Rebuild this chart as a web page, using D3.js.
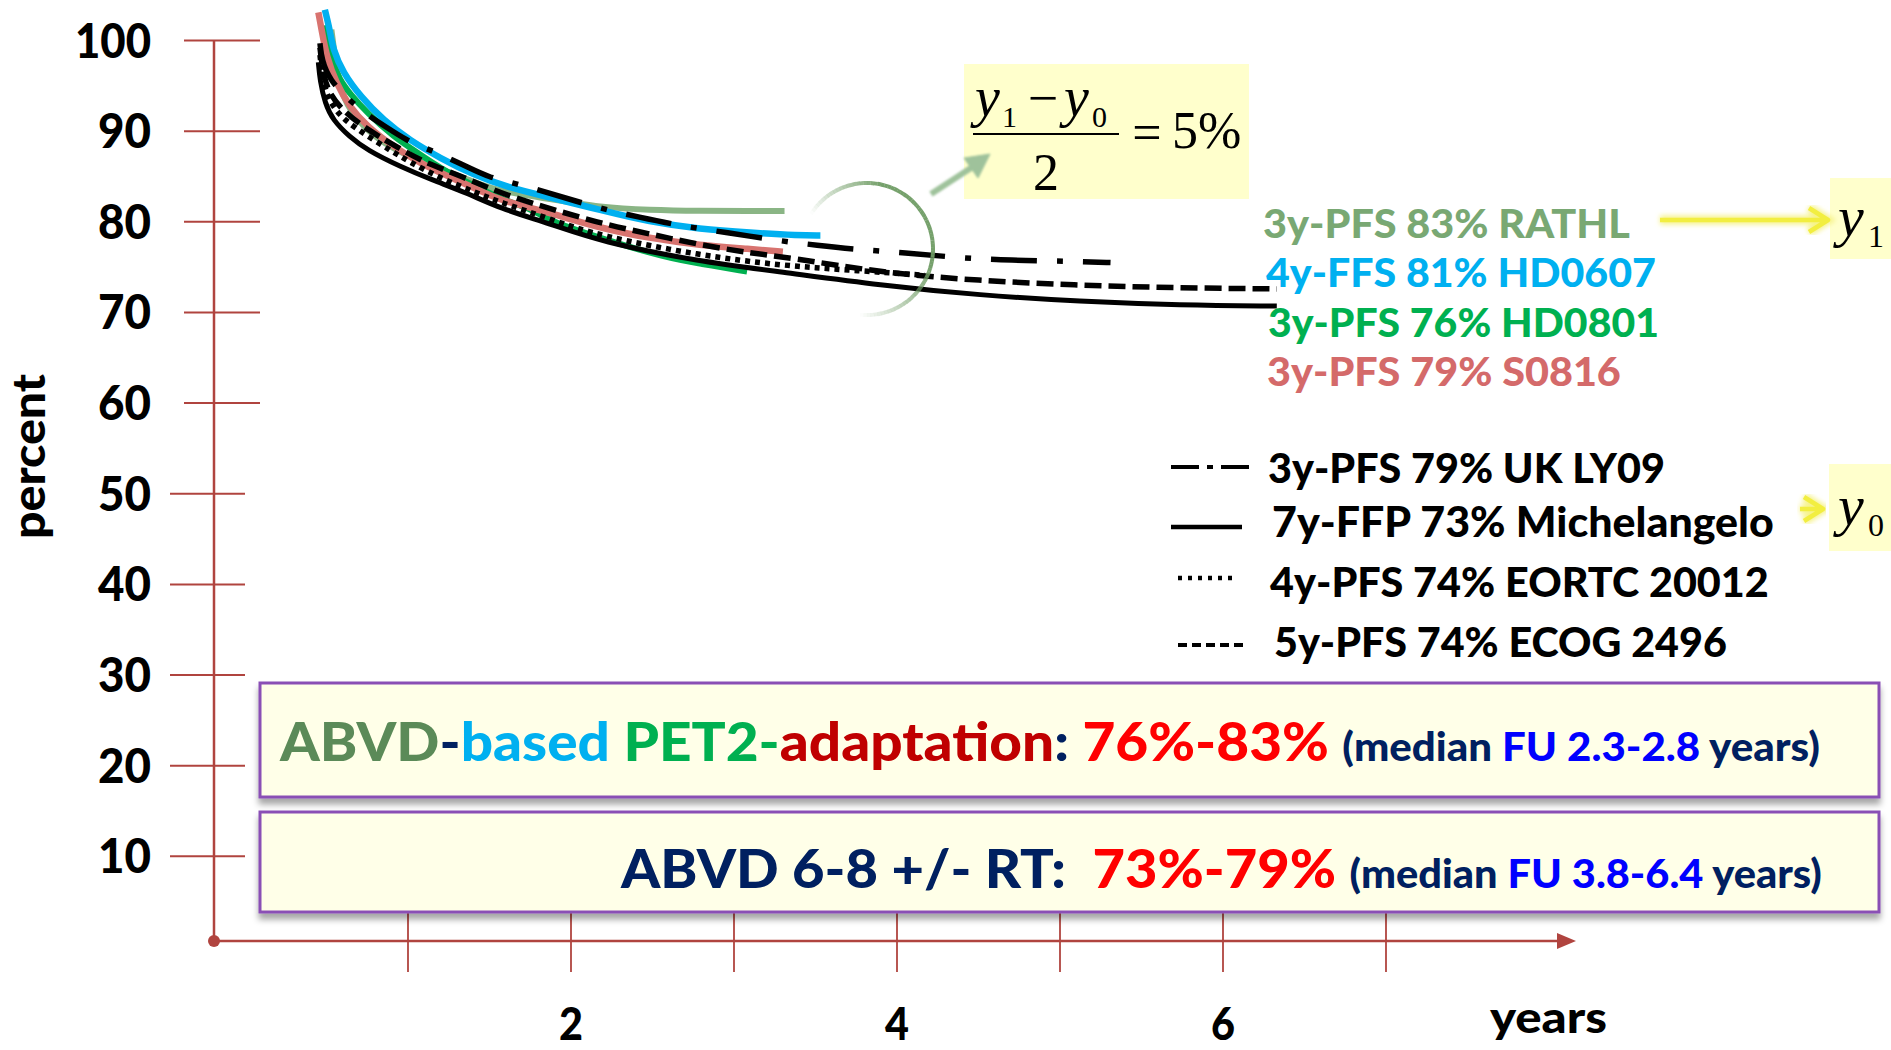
<!DOCTYPE html>
<html>
<head>
<meta charset="utf-8">
<script src="https://cdn.jsdelivr.net/npm/d3@7"></script>
<style>
  body { margin: 0; background: #fff; }
  svg { display: block; font-family: Lato, "Open Sans", sans-serif; font-weight: 900; }
</style>
</head>
<body>
<svg id="chart" width="1891" height="1050"></svg>
<script>
// Axis ticks
const yTicks = [10, 20, 30, 40, 50, 60, 70, 80, 90, 100];
const xTicks = [1, 2, 3, 4, 5, 6, 7];
const xLabels = [2, 4, 6];

// Curves: [years, percent]
const rathl = [[0.53,101.2],[0.55,98.4],[0.58,94.9],[0.64,92.3],[0.75,90.1],[0.85,88.7],[1.01,87.1],[1.26,85.4],[1.46,84.0],[1.56,83.4],[1.87,82.5],[2.18,81.6],[2.48,81.3],[2.79,81.2],[3.10,81.2],[3.31,81.2]];
const hd0607 = [[0.49,103.4],[0.52,101.2],[0.54,99.0],[0.60,96.5],[0.71,93.8],[0.85,91.2],[1.01,89.0],[1.20,87.0],[1.40,85.2],[1.61,83.8],[1.87,82.7],[2.18,81.3],[2.48,80.0],[2.79,79.2],[3.10,78.8],[3.40,78.5],[3.53,78.5]];
const hd0801 = [[0.50,101.7],[0.52,99.5],[0.54,97.5],[0.58,95.7],[0.64,94.2],[0.75,92.0],[0.91,89.4],[1.06,87.6],[1.20,85.9],[1.36,84.4],[1.56,82.6],[1.77,81.3],[1.87,80.1],[2.18,78.2],[2.59,76.0],[2.79,75.4],[3.08,74.5]];
const s0816 = [[0.45,103.1],[0.47,101.2],[0.50,98.2],[0.56,95.3],[0.64,92.7],[0.75,90.5],[0.91,88.3],[1.07,86.5],[1.26,84.9],[1.46,83.3],[1.56,82.4],[1.87,81.0],[2.18,79.3],[2.48,78.2],[2.79,77.4],[3.10,77.0],[3.30,76.7]];
const ukly09 = [[0.46,99.7],[0.47,97.9],[0.52,95.6],[0.64,93.4],[0.75,91.8],[0.87,90.4],[0.99,89.0],[1.11,88.1],[1.23,87.2],[1.37,86.0],[1.50,84.9],[1.62,84.4],[1.81,83.5],[2.15,81.6],[2.42,80.5],[2.69,79.5],[2.96,78.8],[3.24,78.0],[3.51,77.4],[3.78,76.9],[4.05,76.6],[4.33,76.1],[4.61,75.8],[4.88,75.7],[5.16,75.6],[5.31,75.5]];
const michelangelo = [[0.45,97.6],[0.46,95.6],[0.49,93.1],[0.54,91.2],[0.64,89.4],[0.75,87.9],[0.95,86.1],[1.15,84.6],[1.36,83.2],[1.56,81.5],[1.87,79.8],[2.18,77.8],[2.79,75.6],[3.28,74.5],[3.90,73.0],[4.51,71.9],[5.12,71.2],[5.74,70.8],[6.33,70.7]];
const eortc = [[0.46,98.4],[0.48,95.1],[0.53,92.9],[0.61,91.2],[0.74,89.6],[0.89,87.9],[1.01,86.6],[1.20,84.8],[1.42,83.2],[1.56,82.2],[1.87,80.3],[2.18,78.4],[2.79,76.3],[3.28,75.2],[3.69,74.7],[4.17,74.1]];
const ecog = [[0.46,99.2],[0.48,96.2],[0.52,94.0],[0.61,92.1],[0.74,90.3],[0.89,88.7],[1.07,86.8],[1.26,85.5],[1.46,84.0],[1.64,82.7],[1.92,81.2],[2.21,79.7],[2.50,78.6],[2.78,77.5],[3.08,76.6],[3.36,76.0],[3.90,74.4],[4.50,73.5],[5.11,73.0],[5.72,72.7],[6.33,72.6]];

// Legend labels
const coloredLabels = ["3y-PFS 83% RATHL", "4y-FFS 81% HD0607", "3y-PFS 76% HD0801", "3y-PFS 79% S0816"];
const blackLabels = ["3y-PFS 79% UK LY09", "7y-FFP 73% Michelangelo", "4y-PFS 74% EORTC 20012", "5y-PFS 74% ECOG 2496"];

const axisCol = "#b0443f";
const navy = "#002060";

const svg = d3.select("#chart");
const defs = svg.append("defs");

defs.append("filter").attr("id", "shadow")
    .attr("x", "-5%").attr("y", "-20%").attr("width", "110%").attr("height", "150%")
    .append("feDropShadow")
    .attr("dx", 0).attr("dy", 6).attr("stdDeviation", 3)
    .attr("flood-color", "#000").attr("flood-opacity", 0.35);

defs.append("filter").attr("id", "glow")
    .append("feGaussianBlur").attr("stdDeviation", 2.5);

defs.append("filter").attr("id", "soft")
    .append("feGaussianBlur").attr("stdDeviation", 0.8);

// Scales
const x = d3.scaleLinear().domain([0, 7]).range([245, 1386]);
const y = d3.scaleLinear().domain([0, 100]).range([947, 40.5]);
const axisX = 214, axisY = 941;

// squeeze / stretch a text so it spans a given width
function fit(sel, x0, baseline, width, rot) {
    const w = sel.node().getComputedTextLength();
    sel.attr("x", 0).attr("y", 0)
        .attr("transform", "translate(" + x0 + "," + baseline + ")" + (rot ? " rotate(" + rot + ")" : "") + " scale(" + (width / w) + ",1)");
    return sel;
}

// Y axis
svg.append("line")
    .attr("x1", axisX).attr("x2", axisX)
    .attr("y1", y(100)).attr("y2", axisY)
    .attr("stroke", axisCol).attr("stroke-width", 2.5);

svg.selectAll(".ytick").data(yTicks).enter().append("line")
    .attr("class", "ytick")
    .attr("x1", d => d >= 60 ? axisX - 30 : axisX - 44)
    .attr("x2", d => d >= 60 ? axisX + 46 : axisX + 31)
    .attr("y1", d => y(d)).attr("y2", d => y(d))
    .attr("stroke", axisCol).attr("stroke-width", 2);

svg.selectAll(".ylab").data(yTicks).enter().append("text")
    .attr("class", "ylab")
    .attr("font-size", 48)
    .text(d => d)
    .each(function (d) {
        const t = d3.select(this);
        const w = (d === 100 ? 76 : 53);
        fit(t, 151 - w, y(d) + 17, w);
    });

fit(svg.append("text").attr("font-size", 46).text("percent"), 45, 539, 165, -90);

// X axis
svg.selectAll(".xtick").data(xTicks).enter().append("line")
    .attr("class", "xtick")
    .attr("x1", d => x(d)).attr("x2", d => x(d))
    .attr("y1", 905).attr("y2", 972)
    .attr("stroke", axisCol).attr("stroke-width", 1.8);

svg.append("line")
    .attr("x1", axisX).attr("x2", 1562)
    .attr("y1", axisY).attr("y2", axisY)
    .attr("stroke", axisCol).attr("stroke-width", 2.5);

svg.append("path")
    .attr("d", "M1557,933 L1576,941 L1557,949 Z")
    .attr("fill", axisCol);

svg.append("circle")
    .attr("cx", axisX).attr("cy", axisY).attr("r", 6)
    .attr("fill", axisCol);

svg.selectAll(".xlab").data(xLabels).enter().append("text")
    .attr("class", "xlab")
    .attr("font-size", 46)
    .text(d => d)
    .each(function (d) {
        fit(d3.select(this), x(d) - 12, 1040, 24);
    });

fit(svg.append("text").attr("font-size", 44).text("years"), 1490, 1033, 117);

// Curves
const line = d3.line()
    .x(d => x(d[0]))
    .y(d => y(d[1]))
    .curve(d3.curveBasis);

const coloredSeries = [
    { data: rathl, color: "#8ab585", width: 6 },
    { data: hd0801, color: "#00b050", width: 6 },
    { data: s0816, color: "#d8736f", width: 6.5 },
    { data: hd0607, color: "#00b0f0", width: 6.5 }
];
const blackSeries = [
    { data: ecog, dash: "17,7", width: 5.5 },
    { data: eortc, dash: "5,5", width: 5.5 },
    { data: ukly09, dash: "46,20,6,20", width: 5.5 },
    { data: michelangelo, dash: null, width: 5 }
];

svg.selectAll(".colored").data(coloredSeries).enter().append("path")
    .attr("class", "colored")
    .attr("d", d => line(d.data))
    .attr("fill", "none")
    .attr("stroke", d => d.color)
    .attr("stroke-width", d => d.width);

svg.selectAll(".black").data(blackSeries).enter().append("path")
    .attr("class", "black")
    .attr("d", d => line(d.data))
    .attr("fill", "none")
    .attr("stroke", "#000")
    .attr("stroke-width", d => d.width)
    .attr("stroke-dasharray", d => d.dash);

// Fading circle around the curve ends
const ring = svg.append("g").attr("transform", "translate(867,249)");
const nSeg = 80, a0 = -58 * Math.PI / 180, a1 = 186 * Math.PI / 180;
const ringArc = d3.arc().innerRadius(64).outerRadius(68);
d3.range(nSeg).forEach(i => {
    const f = (i + 0.5) / nSeg;
    ring.append("path")
        .attr("d", ringArc({ startAngle: a0 + (a1 - a0) * i / nSeg, endAngle: a0 + (a1 - a0) * (i + 1.05) / nSeg }))
        .attr("fill", "#6f9c64")
        .attr("opacity", Math.max(0, Math.min(0.95, f / 0.3, (1 - f) / 0.35)));
});

// Formula box
svg.append("rect")
    .attr("x", 964).attr("y", 64).attr("width", 285).attr("height", 135)
    .attr("fill", "#ffffcc");

// Arrow from the circle to the formula
const fArrow = svg.append("g").attr("fill", "#9fc29b").attr("stroke", "#9fc29b").attr("filter", "url(#soft)");
fArrow.append("line")
    .attr("x1", 931).attr("y1", 194).attr("x2", 974).attr("y2", 166)
    .attr("stroke-width", 6);
fArrow.append("path")
    .attr("d", "M990,154 L964,158 L978,178 Z")
    .attr("stroke-width", 1);

const serif = "'Liberation Serif', 'Times New Roman', serif";
const formula = svg.append("g").attr("font-family", serif).attr("font-weight", 400).attr("fill", "#000");
formula.append("text").attr("x", 975).attr("y", 116).attr("font-size", 56).attr("font-style", "italic").text("y");
formula.append("text").attr("x", 1002).attr("y", 127).attr("font-size", 30).text("1");
formula.append("text").attr("x", 1043).attr("y", 116).attr("font-size", 54).attr("text-anchor", "middle").text("\u2212");
formula.append("text").attr("x", 1064).attr("y", 116).attr("font-size", 56).attr("font-style", "italic").text("y");
formula.append("text").attr("x", 1092).attr("y", 127).attr("font-size", 30).text("0");
formula.append("line").attr("x1", 973).attr("x2", 1119).attr("y1", 134).attr("y2", 134).attr("stroke", "#000").attr("stroke-width", 2);
formula.append("text").attr("x", 1046).attr("y", 190).attr("font-size", 52).attr("text-anchor", "middle").text("2");
formula.append("text").attr("x", 1147).attr("y", 150).attr("font-size", 52).attr("text-anchor", "middle").text("=");
formula.append("text").attr("x", 1172).attr("y", 148).attr("font-size", 52).text("5%");

// Colored legend
const coloredRows = [
    { color: "#79a873", base: 238, x0: 1263, w: 367 },
    { color: "#00b0f0", base: 287, x0: 1266, w: 390 },
    { color: "#00b050", base: 337, x0: 1268, w: 391 },
    { color: "#d46a6a", base: 386, x0: 1267, w: 354 }
];
coloredLabels.forEach((lab, i) => {
    const r = coloredRows[i];
    fit(svg.append("text").attr("font-size", 40).attr("fill", r.color).text(lab), r.x0, r.base, r.w);
});

// Black legend
const blackRows = [
    { base: 483, x0: 1268, w: 397, lx0: 1171, lx1: 1256, ly: 467, dash: "28,8,6,8", width: 4 },
    { base: 537, x0: 1272, w: 502, lx0: 1171, lx1: 1242, ly: 527, dash: null, width: 4.5 },
    { base: 597, x0: 1270, w: 499, lx0: 1178, lx1: 1233, ly: 578, dash: "4,6", width: 4.5 },
    { base: 657, x0: 1274, w: 453, lx0: 1178, lx1: 1245, ly: 645, dash: "9,5", width: 4 }
];
blackLabels.forEach((lab, i) => {
    const r = blackRows[i];
    svg.append("line")
        .attr("x1", r.lx0).attr("x2", r.lx1).attr("y1", r.ly).attr("y2", r.ly)
        .attr("stroke", "#000").attr("stroke-width", r.width)
        .attr("stroke-dasharray", r.dash);
    fit(svg.append("text").attr("font-size", 42).attr("fill", "#000").text(lab), r.x0, r.base, r.w);
});

// y1 / y0 markers
function yMarker(bx, by, bh, tx, tbase, sub, ax0, ax1, ay) {
    svg.append("rect").attr("x", bx).attr("y", by).attr("width", 1891 - bx).attr("height", bh).attr("fill", "#ffffcc");
    const arrow = "M" + ax0 + "," + ay + " L" + ax1 + "," + ay + " M" + (ax1 - 19) + "," + (ay - 12) + " L" + ax1 + "," + ay + " L" + (ax1 - 19) + "," + (ay + 12);
    svg.append("path").attr("d", arrow).attr("fill", "none").attr("stroke", "#f6f38a")
        .attr("stroke-width", 9).attr("filter", "url(#glow)");
    svg.append("path").attr("d", arrow).attr("fill", "none").attr("stroke", "#f2ee40")
        .attr("stroke-width", 4.5).attr("stroke-linejoin", "round");
    svg.append("text").attr("x", tx).attr("y", tbase).attr("font-family", serif).attr("font-weight", 400)
        .attr("font-style", "italic").attr("font-size", 58).text("y");
    svg.append("text").attr("x", tx + 30).attr("y", tbase + 11).attr("font-family", serif).attr("font-weight", 400)
        .attr("font-size", 32).text(sub);
}
yMarker(1830, 178, 81, 1838, 236, "1", 1660, 1828, 220);
yMarker(1829, 464, 87, 1838, 525, "0", 1800, 1823, 509);

// Summary boxes
svg.append("rect")
    .attr("x", 260).attr("y", 683).attr("width", 1619).attr("height", 114)
    .attr("fill", "#ffffe8").attr("stroke", "#8a4fb5").attr("stroke-width", 3)
    .attr("filter", "url(#shadow)");
svg.append("rect")
    .attr("x", 260).attr("y", 812).attr("width", 1619).attr("height", 100)
    .attr("fill", "#ffffe8").attr("stroke", "#8a4fb5").attr("stroke-width", 3)
    .attr("filter", "url(#shadow)");

const box1 = [
    { t: "ABVD", c: "#5b8a58", s: 54 },
    { t: "-", c: navy, s: 54 },
    { t: "based ", c: "#00b0f0", s: 54 },
    { t: "PET2-", c: "#00b050", s: 54 },
    { t: "adaptation", c: "#c00000", s: 54 },
    { t: ": ", c: navy, s: 54 },
    { t: "76%-83% ", c: "#ff0000", s: 54 },
    { t: "(median ", c: navy, s: 40 },
    { t: "FU 2.3-2.8", c: "#0000ff", s: 40 },
    { t: " years)", c: navy, s: 40 }
];
const box2 = [
    { t: "ABVD 6-8 +/- RT:  ", c: navy, s: 54 },
    { t: "73%-79% ", c: "#ff0000", s: 54 },
    { t: "(median ", c: navy, s: 40 },
    { t: "FU 3.8-6.4", c: "#0000ff", s: 40 },
    { t: " years)", c: navy, s: 40 }
];

function richText(parts, x0, base, width) {
    const t = svg.append("text").style("white-space", "pre");
    parts.forEach(p => {
        t.append("tspan").attr("fill", p.c).attr("font-size", p.s).text(p.t);
    });
    fit(t, x0, base, width);
}
richText(box1, 280, 761, 1540);
richText(box2, 621, 888, 1201);
</script>
</body>
</html>
